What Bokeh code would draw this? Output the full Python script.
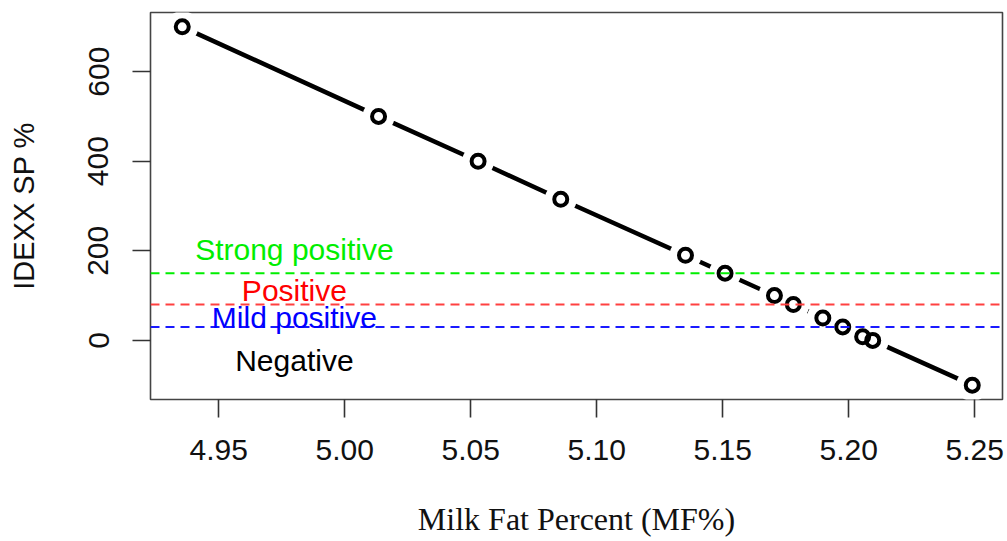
from bokeh.plotting import figure
from bokeh.models import Range1d, FixedTicker, Span, Label
from bokeh.embed import file_html
from bokeh.resources import INLINE

# Milk fat percent vs IDEXX S/P ratio
mf = [4.9355, 5.0134, 5.0529, 5.0857, 5.1352, 5.1509, 5.1705, 5.1780,
      5.1897, 5.1976, 5.2055, 5.2095, 5.2490]
sp = [700, 500, 400, 315, 190, 150, 100, 80, 50, 30, 8, 0, -100]

x_ticks = [4.95, 5.00, 5.05, 5.10, 5.15, 5.20, 5.25]
y_ticks = [0, 200, 400, 600]

# diagnostic cut-offs and their labels
cut_values = [150, 80, 30]
cut_colors = ["#00ee00", "#ff4040", "#1a1aff"]
band_names = ["Strong positive", "Positive", "Mild positive", "Negative"]
band_colors = ["#00ee00", "#ff0000", "#0000ff", "#000000"]
band_label_y = [203, 111, 52, -45]
band_label_x = 4.980

SANS = "Liberation Sans"
SERIF = "Liberation Serif"

p = figure(width=1007, height=541, output_backend="svg", toolbar_location=None,
           x_range=Range1d(4.9229, 5.2610), y_range=Range1d(-132, 732),
           min_border_left=150, min_border_right=5, min_border_top=12,
           min_border_bottom=142)

p.background_fill_color = "white"
p.border_fill_color = "white"
p.outline_line_color = "#444444"
p.outline_line_width = 1.6
p.grid.visible = False

for ax in (p.xaxis[0], p.yaxis[0]):
    ax.axis_line_color = None
    ax.major_tick_line_color = "#333333"
    ax.major_tick_line_width = 1.6
    ax.major_tick_out = 18
    ax.major_tick_in = 0
    ax.minor_tick_line_color = None
    ax.major_label_text_font = SANS
    ax.major_label_text_font_size = "30px"
    ax.major_label_text_color = "#111111"

p.xaxis.ticker = FixedTicker(ticks=x_ticks)
p.xaxis.bounds = (4.918, 5.25)
p.xaxis.major_label_overrides = {t: f"{t:.2f}" for t in x_ticks}
p.xaxis.major_label_standoff = 22
p.xaxis.axis_label = "Milk Fat Percent (MF%)"
p.xaxis.axis_label_text_font = SERIF
p.xaxis.axis_label_text_font_size = "32px"
p.xaxis.axis_label_text_font_style = "normal"
p.xaxis.axis_label_text_color = "#111111"
p.xaxis.axis_label_standoff = 38

p.yaxis.ticker = FixedTicker(ticks=y_ticks)
p.yaxis.major_label_orientation = "vertical"
p.yaxis.major_label_standoff = 24
p.yaxis.axis_label = "IDEXX SP %"
p.yaxis.axis_label_text_font = SANS
p.yaxis.axis_label_text_font_size = "29px"
p.yaxis.axis_label_text_font_style = "normal"
p.yaxis.axis_label_text_color = "#111111"
p.yaxis.axis_label_standoff = 46

# connecting line, broken around each point by a white halo
p.line(mf, sp, line_color="black", line_width=4.5)
p.scatter(mf, sp, marker="circle", size=32, fill_color="white", line_color=None)

for v, c in zip(cut_values, cut_colors):
    p.add_layout(Span(location=v, dimension="width", line_color=c,
                      line_width=2, line_dash="9 6"))

p.scatter(mf, sp, marker="circle", size=13, fill_color=None,
          line_color="black", line_width=4)

for name, col, yy in zip(band_names, band_colors, band_label_y):
    p.add_layout(Label(x=band_label_x, y=yy, text=name, text_color=col,
                       text_font=SANS, text_font_size="30px",
                       text_align="center", text_baseline="middle"))

open("out.html", "w").write(file_html(p, INLINE))
